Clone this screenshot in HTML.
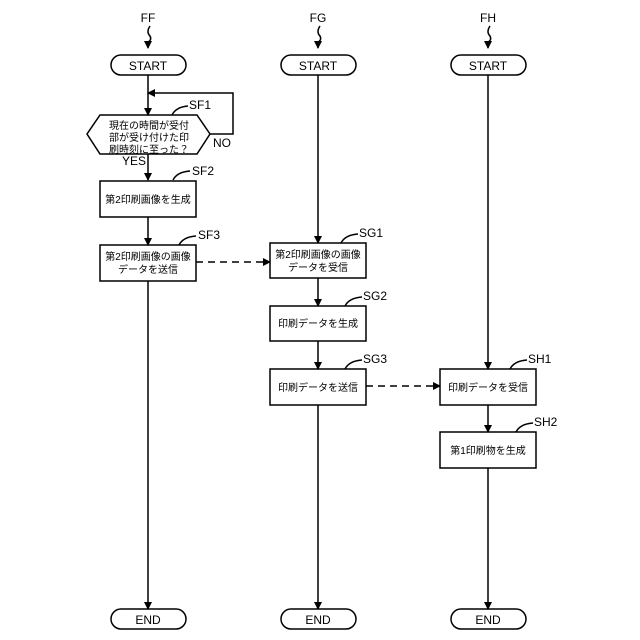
<!DOCTYPE html>
<html><head><meta charset="utf-8"><style>body{margin:0;background:#fff}svg{display:block}text{font-family:"Liberation Sans","Noto Sans CJK JP",sans-serif;fill:#000}</style></head>
<body>
<svg width="640" height="640" viewBox="0 0 640 640">
<defs><marker id="a" markerWidth="8" markerHeight="8" refX="7" refY="4" orient="auto" markerUnits="userSpaceOnUse"><path d="M0,0 L8,4 L0,8 Z" fill="#000"/></marker></defs>
<g stroke="#000" stroke-width="1.5" fill="none">
<!-- top labels arrows -->
<path d="M150,26 q-4,6 0,10 q2,4 -2,6 L148,48" marker-end="url(#a)"/>
<path d="M320,26 q-4,6 0,10 q2,4 -2,6 L318,48" marker-end="url(#a)"/>
<path d="M490,26 q-4,6 0,10 q2,4 -2,6 L488,48" marker-end="url(#a)"/>
<!-- starts -->
<rect x="111" y="55" width="75" height="20" rx="10"/>
<rect x="281" y="55" width="75" height="20" rx="10"/>
<rect x="451" y="55" width="75" height="20" rx="10"/>
<!-- ends -->
<rect x="111" y="609" width="75" height="20" rx="10"/>
<rect x="281" y="609" width="75" height="20" rx="10"/>
<rect x="451" y="609" width="75" height="20" rx="10"/>
<!-- FF -->
<path d="M148,75 L148,115" marker-end="url(#a)"/>
<path d="M210,134 L233,134 L233,93 L148,93" marker-end="url(#a)"/>
<polygon points="100,115 197,115 210,134 197,154 100,154 87,134"/>
<path d="M148,154 L148,180" marker-end="url(#a)"/>
<rect x="100" y="181" width="96" height="36"/>
<path d="M148,217 L148,245" marker-end="url(#a)"/>
<rect x="100" y="245" width="96" height="36"/>
<path d="M148,281 L148,609" marker-end="url(#a)"/>
<path d="M196,262 L270,262" stroke-dasharray="7,5" marker-end="url(#a)"/>
<!-- FG -->
<path d="M318,75 L318,243" marker-end="url(#a)"/>
<rect x="270" y="243" width="96" height="35"/>
<path d="M318,278 L318,306" marker-end="url(#a)"/>
<rect x="270" y="306" width="96" height="35"/>
<path d="M318,341 L318,369" marker-end="url(#a)"/>
<rect x="270" y="369" width="96" height="36"/>
<path d="M318,405 L318,609" marker-end="url(#a)"/>
<path d="M366,386 L440,386" stroke-dasharray="7,5" marker-end="url(#a)"/>
<!-- FH -->
<path d="M488,75 L488,369" marker-end="url(#a)"/>
<rect x="440" y="369" width="96" height="36"/>
<path d="M488,405 L488,432" marker-end="url(#a)"/>
<rect x="440" y="432" width="96" height="36"/>
<path d="M488,468 L488,609" marker-end="url(#a)"/>
<!-- leaders -->
<path d="M172,115 q4,-8 16,-9"/>
<path d="M173,180 q4,-8 17,-9"/>
<path d="M179,245 q4,-8 17,-9"/>
<path d="M341,243 q4,-8 17,-9"/>
<path d="M345,306 q4,-8 17,-9"/>
<path d="M345,369 q4,-8 17,-9"/>
<path d="M510,369 q4,-8 17,-9"/>
<path d="M516,432 q4,-8 17,-9"/>
</g>
<g font-size="12">
<text x="148" y="22" text-anchor="middle">FF</text>
<text x="318" y="22" text-anchor="middle">FG</text>
<text x="488" y="22" text-anchor="middle">FH</text>
<text x="148" y="70" text-anchor="middle">START</text>
<text x="318" y="70" text-anchor="middle">START</text>
<text x="488" y="70" text-anchor="middle">START</text>
<text x="148" y="624" text-anchor="middle">END</text>
<text x="318" y="624" text-anchor="middle">END</text>
<text x="488" y="624" text-anchor="middle">END</text>
<text x="189" y="109">SF1</text>
<text x="192" y="175">SF2</text>
<text x="198" y="239">SF3</text>
<text x="359" y="237">SG1</text>
<text x="363" y="300">SG2</text>
<text x="363" y="363">SG3</text>
<text x="528" y="363">SH1</text>
<text x="534" y="426">SH2</text>
<text x="213" y="147">NO</text>
<text x="122" y="165">YES</text>
</g>
<g font-size="10" text-anchor="middle">
<text x="149" y="129">現在の時間が受付</text>
<text x="149" y="141">部が受け付けた印</text>
<text x="149" y="153">刷時刻に至った？</text>
<text x="148" y="203">第2印刷画像を生成</text>
<text x="148" y="260">第2印刷画像の画像</text>
<text x="148" y="273">データを送信</text>
<text x="318" y="258">第2印刷画像の画像</text>
<text x="318" y="271">データを受信</text>
<text x="318" y="327">印刷データを生成</text>
<text x="318" y="391">印刷データを送信</text>
<text x="488" y="391">印刷データを受信</text>
<text x="488" y="454">第1印刷物を生成</text>
</g>
</svg>
</body></html>
